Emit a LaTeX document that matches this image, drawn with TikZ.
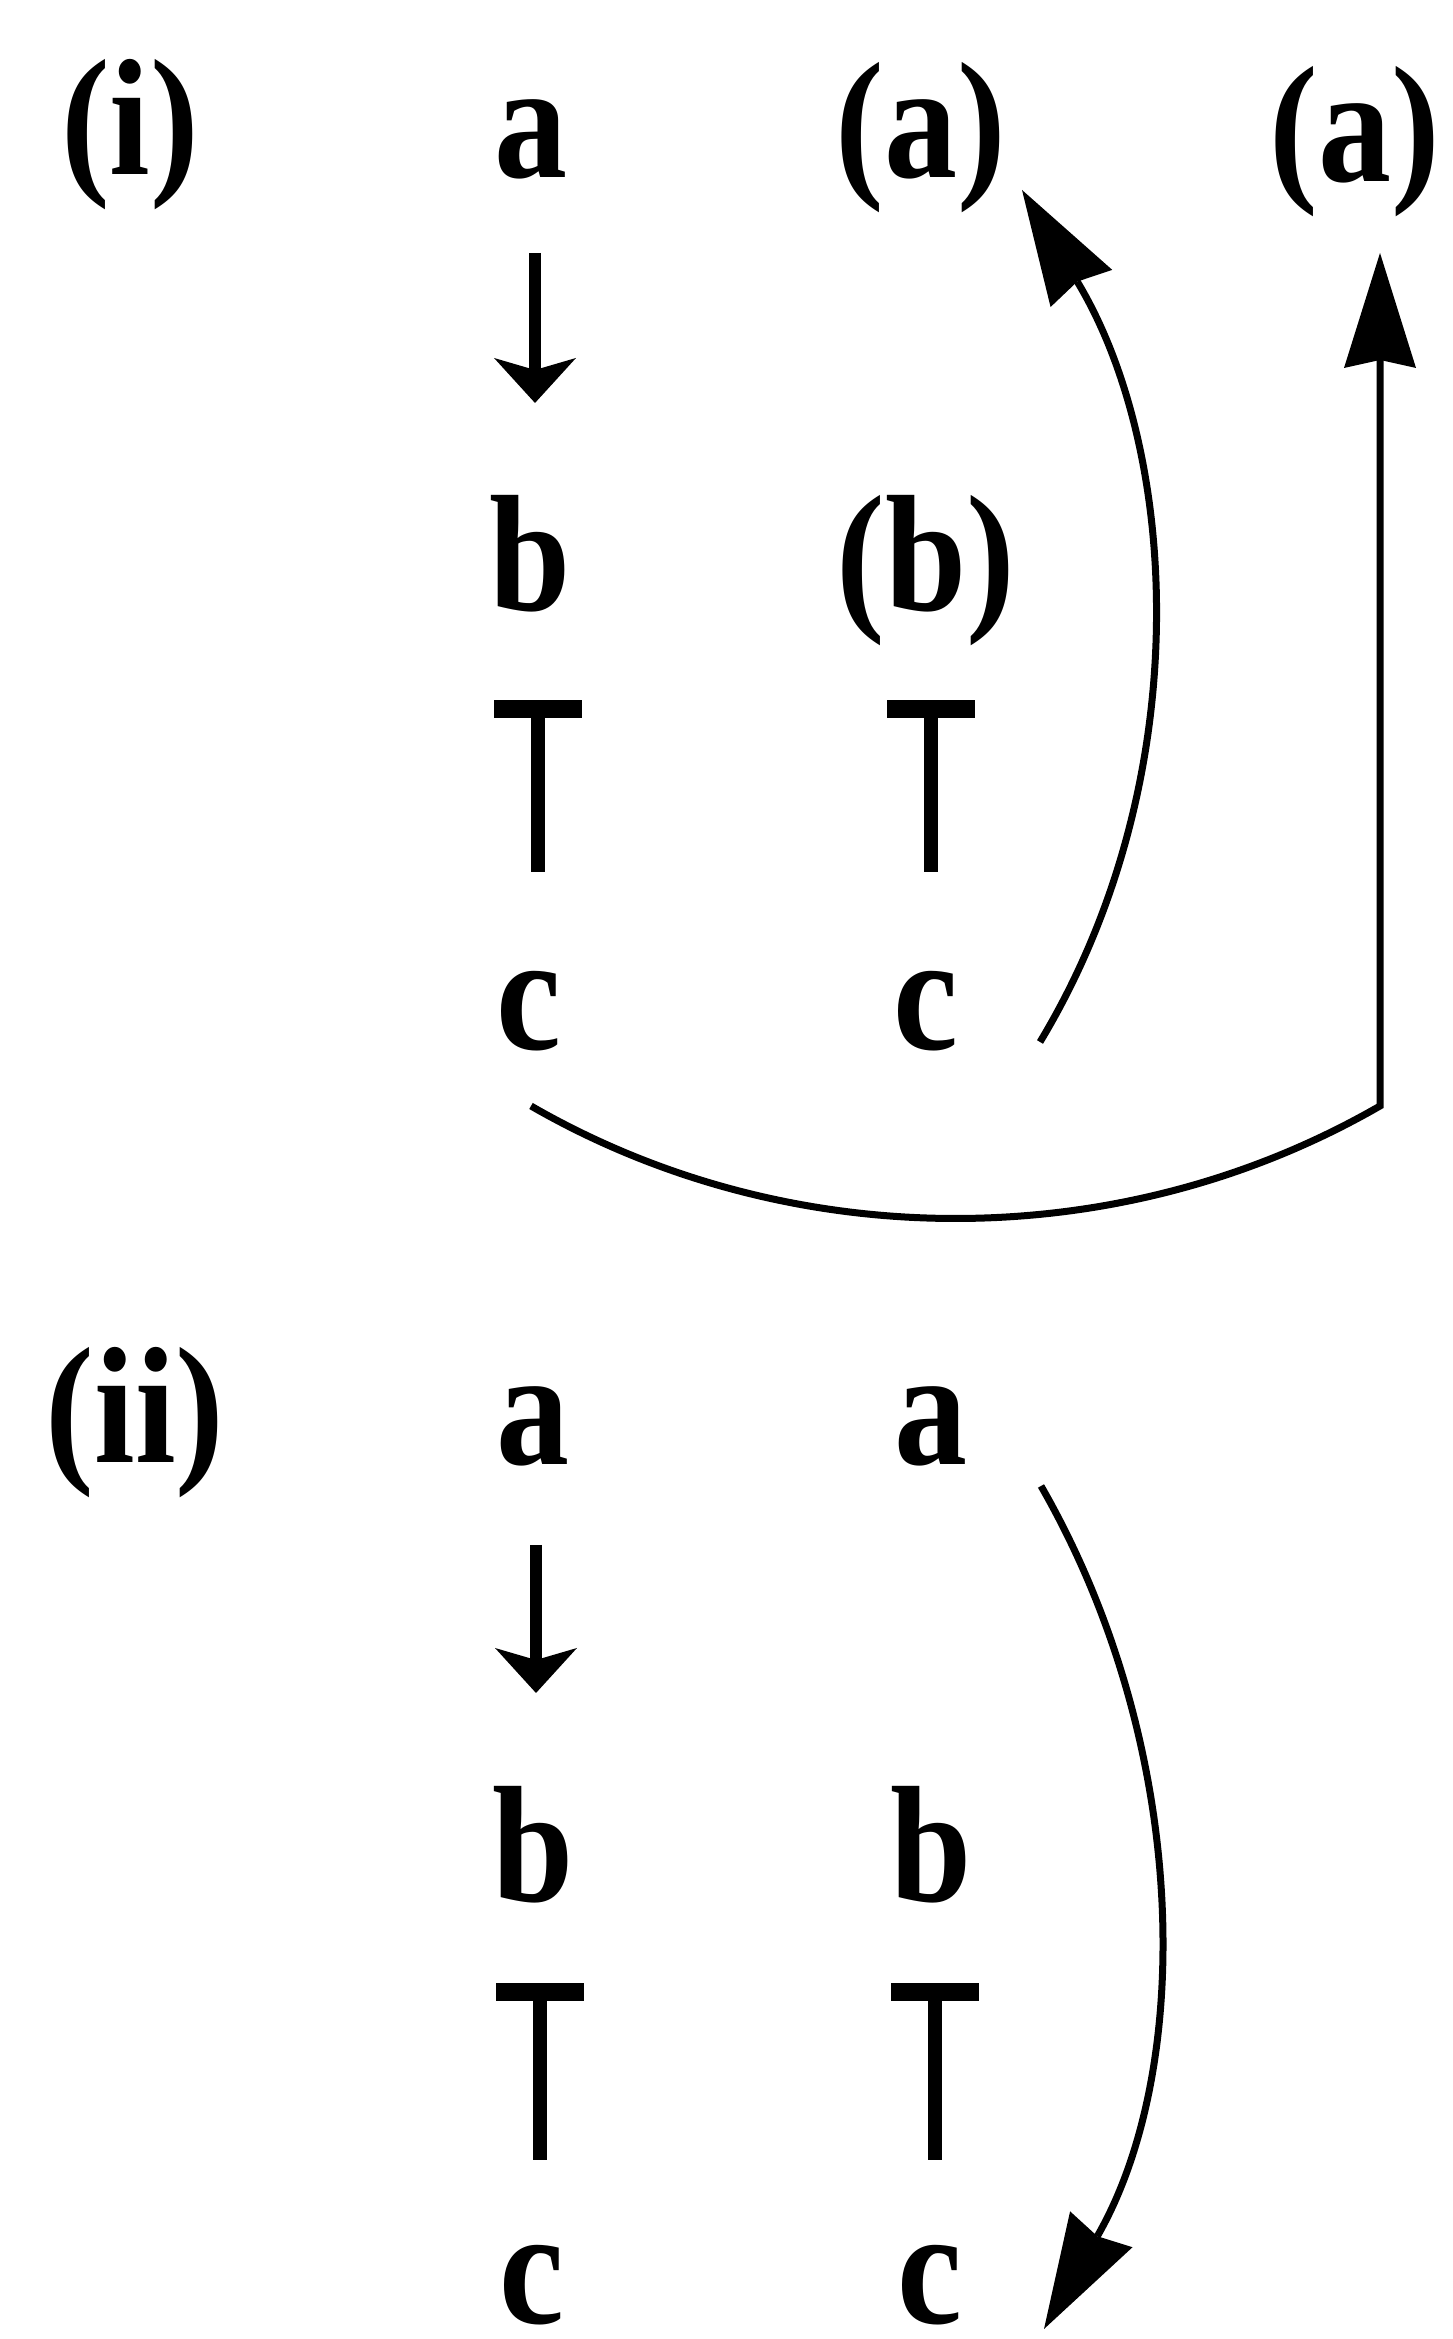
\documentclass[tikz,border=0pt]{standalone}
\usepackage{fontspec}
\setmainfont{Liberation Serif}
\newfontfamily\reffont{Liberation Serif}[FakeStretch=0.88]
\usetikzlibrary{arrows.meta,calc}
\begin{document}
\begin{tikzpicture}[x=1pt,y=1pt,
  lbl/.style={anchor=base,inner sep=0pt,font=\reffont\bfseries\fontsize{166pt}{166pt}\selectfont},
  downarr/.style={line width=12pt,-{Stealth[length=45pt,width=82pt,inset=12pt,line width=0pt]}},
  teeline/.style={line width=14pt,{Rectangle[length=18pt,width=88pt,line width=0pt]}-},
  curvarr/.style={line width=7pt,-{Stealth[length=115pt,width=72pt,inset=8pt,line width=0pt]}},
]
\useasboundingbox (0,0) rectangle (1452,2339);
% (i)
\node[lbl] (i1) at (130,2164) {(i)};
\node[lbl] (a1) at (531,2161) {a};
\node[lbl] (a2) at (921,2161) {(a)};
\node[lbl] (a3) at (1355,2157) {(a)};
\node[lbl] (b1) at (530,1728) {b};
\node[lbl] (b2) at (926,1728) {(b)};
\node[lbl] (c1) at (529,1289) {c};
\node[lbl] (c2) at (926,1289) {c};
% (ii)
\node[lbl] (ii) at (135,876) {(ii)};
\node[lbl] (a4) at (533,874) {a};
\node[lbl] (a5) at (931,874) {a};
\node[lbl] (b4) at (533,437) {b};
\node[lbl] (b5) at (931,437) {b};
\node[lbl] (c4) at (532,15) {c};
\node[lbl] (c5) at (930,15) {c};
% connectors (i)
\draw[downarr] ([shift={(4pt,-75pt)}]a1.base) -- ([shift={(5pt,208pt)}]b1.base);
\draw[teeline] ([shift={(8pt,-89pt)}]b1.base) -- ([shift={(9pt,178pt)}]c1.base);
\draw[teeline] ([shift={(5pt,-89pt)}]b2.base) -- ([shift={(5pt,178pt)}]c2.base);
\draw[curvarr] ([shift={(114pt,8pt)}]c2.base) .. controls +(158pt,262pt) and +(158pt,-262pt) .. ([shift={(101pt,-12pt)}]a2.base);
\coordinate (cS) at ([shift={(2pt,-56pt)}]c1.base);
\coordinate (tA3) at ([shift={(25pt,-71pt)}]a3.base);
\draw[curvarr] (cS) .. controls +(260pt,-150pt) and +(-260pt,-150pt) .. (cS -| tA3) -- (tA3);
% connectors (ii)
\draw[downarr] ([shift={(3pt,-80pt)}]a4.base) -- ([shift={(3pt,209pt)}]b4.base);
\draw[teeline] ([shift={(7pt,-81pt)}]b4.base) -- ([shift={(8pt,164pt)}]c4.base);
\draw[teeline] ([shift={(4pt,-81pt)}]b5.base) -- ([shift={(5pt,164pt)}]c5.base);
\draw[curvarr] ([shift={(110pt,-21pt)}]a5.base) .. controls +(150pt,-261pt) and +(150pt,261pt) .. ([shift={(114pt,-5pt)}]c5.base);
\end{tikzpicture}
\end{document}
